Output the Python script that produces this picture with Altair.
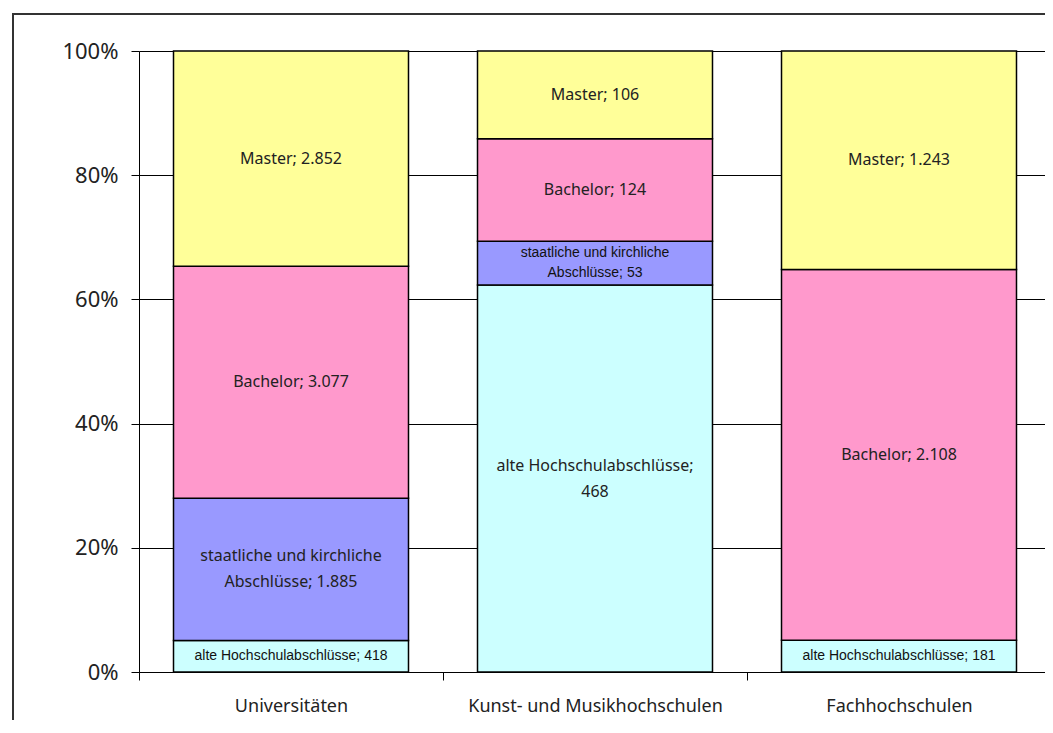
import altair as alt
import pandas as pd

schools = ["Universitäten", "Kunst- und Musikhochschulen", "Fachhochschulen"]
degrees = ["alte Hochschulabschlüsse", "staatliche und kirchliche Abschlüsse", "Bachelor", "Master"]
colors = ["#CCFFFF", "#9999FF", "#FF99CC", "#FFFF99"]

univ_values = [418, 1885, 3077, 2852]
kunst_values = [468, 53, 124, 106]
fach_values = [181, 0, 2108, 1243]

univ_labels = ["alte Hochschulabschlüsse; 418", "staatliche und kirchliche\nAbschlüsse; 1.885",
               "Bachelor; 3.077", "Master; 2.852"]
kunst_labels = ["alte Hochschulabschlüsse;\n468", "staatliche und kirchliche\nAbschlüsse; 53",
                "Bachelor; 124", "Master; 106"]
fach_labels = ["alte Hochschulabschlüsse; 181", "", "Bachelor; 2.108", "Master; 1.243"]

rows = []
for school, vals, labs in zip(schools, [univ_values, kunst_values, fach_values],
                              [univ_labels, kunst_labels, fach_labels]):
    for i, (deg, v, lab) in enumerate(zip(degrees, vals, labs)):
        if v > 0:
            rows.append({"school": school, "degree": deg, "order": i, "value": v, "label": lab})
df = pd.DataFrame(rows)

base = alt.Chart(df).transform_stack(
    stack="value", as_=["y0", "y1"], groupby=["school"],
    sort=[alt.SortField("order", order="ascending")], offset="normalize"
).transform_calculate(
    mid="(datum.y0 + datum.y1) / 2",
    frac="datum.y1 - datum.y0",
    multi="indexof(datum.label, '\\n') >= 0 ? 1 : 0",
)

x_scale = alt.Scale(paddingInner=0, paddingOuter=0, range=[0, 912])
x_enc = alt.X("school:N", sort=schools, title=None, scale=x_scale,
              axis=alt.Axis(labelAngle=0, tickBand="extent", tickSize=8, tickColor="black",
                            domainColor="black", labelFontSize=18, labelPadding=17,
                            labelLimit=500, labelFont="Noto Sans", labelColor="#222",
                            grid=False))
x_plain = alt.X("school:N", sort=schools)

bars = base.mark_bar(stroke="black", strokeWidth=1.5, width=alt.RelativeBandSize(0.773)).encode(
    x=x_enc,
    y=alt.Y("y0:Q", title=None, scale=alt.Scale(domain=[0, 1], nice=False),
            axis=alt.Axis(format="%", values=[0, 0.2, 0.4, 0.6, 0.8, 1.0], tickSize=8,
                          tickColor="black", domainColor="black", gridColor="black",
                          gridWidth=1, labelFontSize=22, labelPadding=13,
                          labelFont="Noto Sans", labelColor="#222")),
    y2="y1:Q",
    color=alt.Color("degree:N", scale=alt.Scale(domain=degrees, range=colors), legend=None),
    order=alt.Order("order:Q"),
)

big_single = base.transform_filter("datum.frac >= 0.08 && datum.multi == 0").mark_text(
    font="Noto Sans", fontSize=16, color="#222"
).encode(x=x_plain, y="mid:Q", text="label:N")

big_multi = base.transform_filter("datum.frac >= 0.08 && datum.multi == 1").mark_text(
    font="Noto Sans", fontSize=16, lineHeight=26, lineBreak="\n", dy=-13, color="#222"
).encode(x=x_plain, y="mid:Q", text="label:N")

small_single = base.transform_filter("datum.frac < 0.08 && datum.multi == 0").mark_text(
    font="Liberation Sans", fontSize=14, color="#111"
).encode(x=x_plain, y="mid:Q", text="label:N")

small_multi = base.transform_filter("datum.frac < 0.08 && datum.multi == 1").mark_text(
    font="Liberation Sans", fontSize=14, lineHeight=20, lineBreak="\n", dy=-10, color="#111"
).encode(x=x_plain, y="mid:Q", text="label:N")

frame = alt.Chart(pd.DataFrame({"f": [0]})).mark_rect(
    fill="white", fillOpacity=0, stroke="#333", strokeWidth=2
).encode(x=alt.value(-126), x2=alt.value(3000), y=alt.value(-37), y2=alt.value(3000))

chart = alt.layer(frame, bars, big_single, big_multi, small_single, small_multi).properties(
    width=906, height=621,
    autosize=alt.AutoSizeParams(type="none"),
    padding={"left": 131, "top": 43, "right": 0, "bottom": 48},
).configure_view(stroke="black", strokeWidth=1).configure(background="white")

chart.save("out.html", embed_options={"renderer": "svg", "actions": False})
